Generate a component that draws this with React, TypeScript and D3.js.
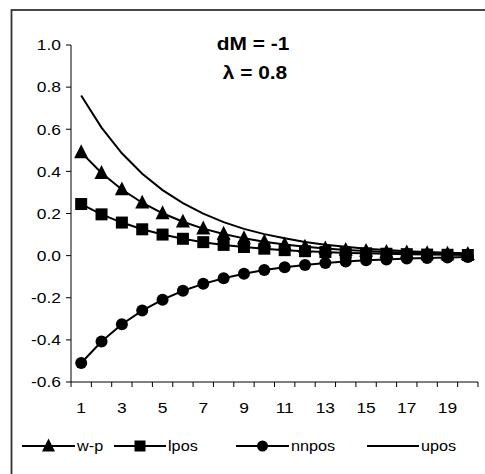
import React from "react";
import * as d3 from "d3";

const categories = [1, 2, 3, 4, 5, 6, 7, 8, 9, 10, 11, 12, 13, 14, 15, 16, 17, 18, 19, 20];
const xTickLabels = [1, 3, 5, 7, 9, 11, 13, 15, 17, 19];
const yTicks = [-0.6, -0.4, -0.2, 0.0, 0.2, 0.4, 0.6, 0.8, 1.0];

const wp = [0.49, 0.392, 0.314, 0.251, 0.201, 0.161, 0.128, 0.103, 0.082, 0.066, 0.053, 0.042, 0.034, 0.027, 0.022, 0.017, 0.014, 0.011, 0.009, 0.007];
const lpos = [0.245, 0.196, 0.157, 0.125, 0.1, 0.08, 0.064, 0.051, 0.041, 0.033, 0.026, 0.021, 0.017, 0.013, 0.011, 0.009, 0.007, 0.005, 0.004, 0.003];
const nnpos = [-0.51, -0.408, -0.326, -0.261, -0.209, -0.167, -0.134, -0.107, -0.086, -0.068, -0.055, -0.044, -0.035, -0.028, -0.022, -0.018, -0.014, -0.011, -0.009, -0.007];
const upos = [0.76, 0.608, 0.486, 0.389, 0.311, 0.249, 0.199, 0.159, 0.127, 0.102, 0.082, 0.065, 0.052, 0.042, 0.033, 0.027, 0.021, 0.017, 0.014, 0.011];

const seriesNames = ["w-p", "lpos", "nnpos", "upos"];
const titleLines = ["dM = -1", "\u03bb = 0.8"];

const W = 485;
const H = 474;
const FONT = "'Liberation Sans', Arial, sans-serif";
const SX = 1.16;

type Marker = "triangle" | "square" | "circle" | "none";

function MarkerShape({ type, cx, cy, s }: { type: Marker; cx: number; cy: number; s: number }) {
  if (type === "triangle") {
    const w = s * 1.08;
    const h = s;
    return <path d={`M${cx},${cy - h * 0.62} L${cx + w / 2},${cy + h * 0.45} L${cx - w / 2},${cy + h * 0.45} Z`} fill="#000" />;
  }
  if (type === "square") {
    return <rect x={cx - s / 2} y={cy - s / 2} width={s} height={s} fill="#000" />;
  }
  if (type === "circle") {
    return <circle cx={cx} cy={cy} r={s / 2} fill="#000" />;
  }
  return null;
}

function SText({ x, y, anchor, size, weight, children }: any) {
  return (
    <text
      transform={`translate(${x},${y}) scale(${SX},1)`}
      textAnchor={anchor}
      fontSize={size}
      fontWeight={weight || "normal"}
      fontFamily={FONT}
      fill="#000"
    >
      {children}
    </text>
  );
}

export default function App() {
  const x = d3.scaleBand<number>().domain(categories).range([71, 478]).padding(0);
  const cx = (c: number) => (x(c) as number) + x.bandwidth() / 2;
  const y = d3.scaleLinear().domain([-0.6, 1.0]).range([382, 45]);

  const line = d3
    .line<number>()
    .x((_, i) => cx(categories[i]))
    .y((d) => y(d));

  const series: { name: string; data: number[]; marker: Marker; size: number; legendSize: number }[] = [
    { name: seriesNames[3], data: upos, marker: "none", size: 0, legendSize: 0 },
    { name: seriesNames[2], data: nnpos, marker: "circle", size: 12, legendSize: 11 },
    { name: seriesNames[1], data: lpos, marker: "square", size: 12, legendSize: 11 },
    { name: seriesNames[0], data: wp, marker: "triangle", size: 13, legendSize: 12 },
  ];

  const boundaries = d3.range(categories.length + 1).map((i) => 71 + i * x.bandwidth());

  const legendItems: { name: string; marker: Marker; size: number; x0: number; x1: number }[] = [
    { name: seriesNames[0], marker: "triangle", size: 12, x0: 22, x1: 75 },
    { name: seriesNames[1], marker: "square", size: 11, x0: 114, x1: 166 },
    { name: seriesNames[2], marker: "circle", size: 11, x0: 236, x1: 289 },
    { name: seriesNames[3], marker: "none", size: 0, x0: 367, x1: 419 },
  ];
  const legendY = 446;

  return (
    <svg width={W} height={H} style={{ position: "absolute", left: 0, top: 0, background: "#fff" }}>
      <rect x={0} y={0} width={W} height={H} fill="#fff" />
      <rect x={11.5} y={10} width={480} height={480} fill="none" stroke="#333" strokeWidth={1.8} />

      {/* axes */}
      <line x1={71} y1={45} x2={71} y2={382} stroke="#000" strokeWidth={1} />
      <line x1={71} y1={382} x2={478} y2={382} stroke="#000" strokeWidth={1} />
      {yTicks.map((t) => (
        <g key={t}>
          <line x1={66} x2={71} y1={y(t)} y2={y(t)} stroke="#000" strokeWidth={1} />
          <SText x={61} y={y(t) + 5.3} anchor="end" size={15}>
            {t.toFixed(1)}
          </SText>
        </g>
      ))}
      {boundaries.map((b, i) => (
        <line key={i} x1={b} x2={b} y1={382} y2={387} stroke="#000" strokeWidth={1} />
      ))}
      {xTickLabels.map((c) => (
        <SText key={c} x={cx(c)} y={413} anchor="middle" size={15}>
          {c}
        </SText>
      ))}

      {/* series */}
      {series.map((s) => (
        <g key={s.name}>
          <path d={line(s.data) || ""} fill="none" stroke="#000" strokeWidth={2} />
          {s.marker !== "none" &&
            s.data.map((v, i) => <MarkerShape key={i} type={s.marker} cx={cx(categories[i])} cy={y(v)} s={s.size} />)}
        </g>
      ))}

      {/* title */}
      <SText x={253} y={50} anchor="middle" size={18} weight="bold">
        {titleLines[0]}
      </SText>
      <SText x={255} y={79} anchor="middle" size={18} weight="bold">
        {titleLines[1]}
      </SText>

      {/* legend */}
      {legendItems.map((l) => (
        <g key={l.name}>
          <line x1={l.x0} x2={l.x1} y1={legendY} y2={legendY} stroke="#000" strokeWidth={2} />
          <MarkerShape type={l.marker} cx={(l.x0 + l.x1) / 2} cy={legendY} s={l.size} />
          <SText x={l.x1 + 2} y={legendY + 5} anchor="start" size={14}>
            {l.name}
          </SText>
        </g>
      ))}
    </svg>
  );
}
